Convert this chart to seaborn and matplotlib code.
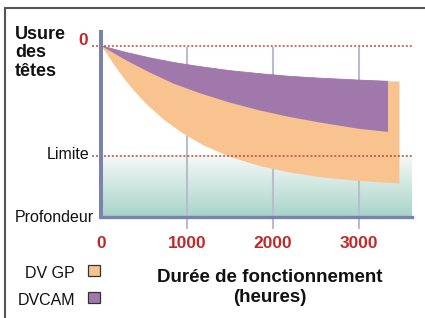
import numpy as np
import pandas as pd
import seaborn as sns
import matplotlib.pyplot as plt
from matplotlib.lines import Line2D
from matplotlib.patches import Rectangle

# heures de fonctionnement / usure (0 = neuf, 1 = limite)
top_x = [0, 267, 558, 849, 1140, 1488, 1837, 2186, 2535, 3000, 3337, 3470]
top_y = [0, 0.056, 0.109, 0.153, 0.189, 0.226, 0.254, 0.278, 0.295, 0.313, 0.324, 0.326]

dvcam_bot_x = [0, 267, 558, 849, 1140, 1488, 1837, 2186, 2535, 3000, 3337]
dvcam_bot_y = [0, 0.122, 0.241, 0.347, 0.430, 0.516, 0.588, 0.648, 0.698, 0.757, 0.785]

dvgp_bot_x = [0, 70, 151, 267, 384, 535, 733, 965, 1198, 1488, 1837, 2186, 2535, 3000, 3470]
dvgp_bot_y = [0, 0.075, 0.172, 0.298, 0.41, 0.537, 0.675, 0.805, 0.909, 1.009, 1.094,
              1.154, 1.196, 1.232, 1.255]

dvcam_end = 3337
xticks = [0, 1000, 2000, 3000]
grid_x = [1000, 2000, 3000]
limite = 1.0
profondeur = 1.56
series = ["DV GP", "DVCAM"]

ORANGE = "#f9c38f"
PURPLE = "#a178ac"
RED = "#c02a2a"
AXCOL = "#7c82b0"
GRIDCOL = "#b8bcce"

sns.set_theme(style="white")
plt.rcParams["font.family"] = ["Liberation Sans", "DejaVu Sans"]

fig = plt.figure(figsize=(4.25, 3.18), dpi=100)
ax = fig.add_axes([101 / 425, 1 - 217 / 318, 311 / 425, 185 / 318])
xmax = 311 / 0.086
ax.set_xlim(0, xmax)
ax.set_ylim(profondeur, -0.125)
ax.set_facecolor("none")

# fond degrade sous la limite
grad = np.linspace(0, 1, 100)[:, None, None]
c0 = np.array([0.965, 0.976, 0.973])
c1 = np.array([0.655, 0.831, 0.784])
img = c0 * (1 - grad) + c1 * grad
ax.imshow(img, extent=(0, xmax, profondeur, limite), aspect="auto", zorder=0)

# grille verticale (depasse sous l'axe)
ax.vlines(grid_x, 0.01, profondeur + 0.11, color=GRIDCOL, lw=1.5,
          clip_on=False, zorder=1)

# DV GP (orange)
ax.fill(top_x + dvgp_bot_x[::-1], top_y + dvgp_bot_y[::-1],
        color=ORANGE, lw=0, zorder=2)

# DVCAM (violet)
cam_tx = [x for x in top_x if x <= dvcam_end]
cam_ty = top_y[:len(cam_tx)]
ax.fill(cam_tx + dvcam_bot_x[::-1], cam_ty + dvcam_bot_y[::-1],
        color=PURPLE, lw=0, zorder=3)
edge = pd.DataFrame({"x": cam_tx, "y": cam_ty})
sns.lineplot(data=edge, x="x", y="y", ax=ax, color=PURPLE, lw=0.6, zorder=3)

# lignes pointillees 0 et limite
for lvl in [0, limite]:
    ax.plot([-105, xmax], [lvl, lvl], color="#c8453a", lw=1.1,
            ls=(0, (1.3, 1.3)), clip_on=False, zorder=5)

# axes
for s in ["top", "right"]:
    ax.spines[s].set_visible(False)
ax.spines["left"].set_color(AXCOL)
ax.spines["left"].set_linewidth(2.9)
ax.spines["bottom"].set_color(AXCOL)
ax.spines["bottom"].set_linewidth(2.4)
ax.spines["left"].set_zorder(6)
ax.set_yticks([])
ax.set_xticks(xticks)
ax.set_xticklabels([str(t) for t in xticks], color=RED, fontweight="bold",
                   fontsize=12.5)
ax.tick_params(axis="x", length=0, pad=14)
ax.set_xlabel("")
ax.set_ylabel("")

# etiquettes de l'axe y
ax.text(-150, -0.006, "0", color=RED, fontweight="bold", fontsize=12.5,
        ha="right", va="baseline")
ax.text(-135, 1.035, "Limite", fontsize=11.5, color="#111111",
        ha="right", va="baseline")
ax.text(-81, 1.604, "Profondeur", fontsize=11.5,
        color="#111111", ha="right", va="baseline", clip_on=False)

fig.text(15 / 425, 1 - 26 / 318, "Usure\ndes\ntêtes", fontweight="bold",
         fontsize=13, ha="left", va="top", linespacing=1.1, color="#111111")

fig.text(270 / 425, 1 - 269 / 318, "Durée de fonctionnement\n(heures)",
         fontweight="bold", fontsize=13.5, ha="center", va="top",
         linespacing=1.2, multialignment="center", color="#111111")

# legende
leg_cols = [ORANGE, PURPLE]
leg_base = [278, 305]
for name, col, yb in zip(series, leg_cols, leg_base):
    fig.text(75 / 425, 1 - yb / 318, name, fontsize=11.5,
             ha="right", va="baseline", color="#111111")
    fig.add_artist(Rectangle((88 / 425, 1 - (yb - 2) / 318), 12 / 425,
                             11 / 318, transform=fig.transFigure,
                             facecolor=col, edgecolor="#333333", lw=0.9))

# cadre
fig.add_artist(Line2D([4.5 / 425, 4.5 / 425], [0, 1 - 7.5 / 318],
                      transform=fig.transFigure, color="#555555", lw=1.5))
fig.add_artist(Line2D([4.5 / 425, 1], [1 - 7.5 / 318, 1 - 7.5 / 318],
                      transform=fig.transFigure, color="#555555", lw=1.5))

fig.savefig("out.png", dpi=100)
